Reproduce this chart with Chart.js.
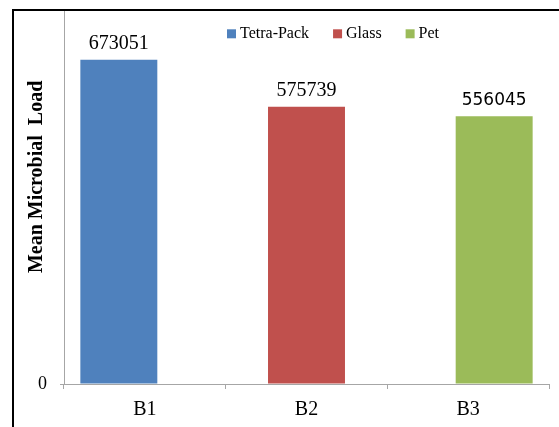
<!DOCTYPE html>
<html lang="en">
<head>
    <meta charset="UTF-8">
    <title>Mean Microbial Load</title>
    <script src="https://cdn.jsdelivr.net/npm/chart.js"></script>
    <style>
        html, body { margin: 0; padding: 0; background: #fff; }
        body { width: 559px; height: 427px; position: relative; overflow: hidden; }
        #frame {
            position: absolute; left: 12px; top: 9px; right: 0; bottom: 0;
            border-left: 2px solid #000; border-top: 2px solid #000;
            overflow: hidden; background: #fff;
        }
        #chart { position: absolute; left: 0; top: -65px; }
    </style>
</head>
<body>
    <div id="frame">
        <canvas id="chart" width="545" height="481"></canvas>
    </div>

    <script>
        // Samples and their bottle type
        const categories = ['B1', 'B2', 'B3'];
        const seriesNames = ['Tetra-Pack', 'Glass', 'Pet'];
        const loads = [673051, 575739, 556045];
        const yTicks = [0];

        const barColors = ['#4F81BD', '#C0504D', '#9BBB59'];
        const valueFonts = ['20px "Liberation Serif"', '20px "Liberation Serif"', '17px "DejaVu Sans"'];
        const axisGray = '#a6a6a6';

        Chart.defaults.font.family = '"Liberation Serif", "Times New Roman", serif';
        Chart.defaults.color = '#000';

        // one series per bottle type, each with a single sample
        const datasets = seriesNames.map((name, i) => ({
            label: name,
            data: categories.map((c, j) => (j === i ? loads[i] : null)),
            backgroundColor: barColors[i],
            borderWidth: 0
        }));

        // legend drawn inside the plot, over the bars
        const topLegend = {
            id: 'topLegend',
            afterDraw(chart) {
                const ctx = chart.ctx;
                const area = chart.chartArea;
                let x = area.left + 163;
                const y = area.top + 64;
                ctx.save();
                ctx.font = '16px "Liberation Serif"';
                ctx.textBaseline = 'middle';
                ctx.textAlign = 'left';
                chart.data.datasets.forEach(ds => {
                    ctx.fillStyle = ds.backgroundColor;
                    ctx.fillRect(x, y - 4.5, 9, 9);
                    ctx.fillStyle = '#000';
                    ctx.fillText(ds.label, x + 13, y);
                    x += 13 + ctx.measureText(ds.label).width + 24;
                });
                ctx.restore();
            }
        };

        // value printed above each bar
        const valueLabels = {
            id: 'valueLabels',
            afterDatasetsDraw(chart) {
                const ctx = chart.ctx;
                ctx.save();
                ctx.textAlign = 'center';
                ctx.textBaseline = 'alphabetic';
                ctx.fillStyle = '#000';
                chart.data.datasets.forEach((ds, i) => {
                    chart.getDatasetMeta(i).data.forEach((bar, j) => {
                        const v = ds.data[j];
                        if (v === null || v === undefined) return;
                        ctx.font = valueFonts[i];
                        ctx.fillText(String(v), bar.x, bar.y - 11);
                    });
                });
                ctx.restore();
            }
        };

        const chart = new Chart(document.getElementById('chart'), {
            type: 'bar',
            data: { labels: categories, datasets: datasets },
            options: {
                responsive: false,
                animation: false,
                devicePixelRatio: 1,
                categoryPercentage: 0.4825,
                barPercentage: 2.96,
                layout: { padding: { left: 0, right: 10, top: 0, bottom: 0 } },
                plugins: {
                    legend: { display: false },
                    tooltip: { enabled: false }
                },
                scales: {
                    x: {
                        afterFit: s => { s.height = 43; },
                        grid: { drawOnChartArea: false, color: axisGray, tickLength: 5, offset: true },
                        border: { color: axisGray, width: 1 },
                        ticks: { font: { size: 20 }, padding: 9, maxRotation: 0 }
                    },
                    y: {
                        min: 0,
                        max: 860000,
                        afterFit: s => { s.width = 50; },
                        afterBuildTicks: s => { s.ticks = yTicks.map(v => ({ value: v })); },
                        grid: { drawOnChartArea: false, color: axisGray, tickLength: 4 },
                        border: { color: axisGray, width: 1 },
                        ticks: { font: { size: 18 }, padding: 13 },
                        title: {
                            display: true,
                            text: 'Mean Microbial  Load',
                            font: { size: 20, weight: 'bold' },
                            padding: { top: 11, bottom: 0 }
                        }
                    }
                }
            },
            plugins: [topLegend, valueLabels]
        });
    </script>
</body>
</html>
